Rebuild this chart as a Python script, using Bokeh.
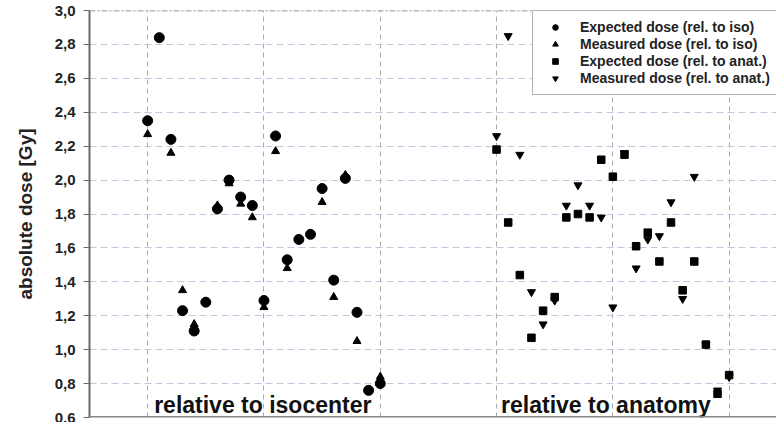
from bokeh.plotting import figure
from bokeh.embed import file_html
from bokeh.resources import INLINE
from bokeh.models import FixedTicker, CustomJSTickFormatter, Span
from bokeh.core.properties import value

# ---- data ----
iso_x = list(range(10, 31))
iso_expected = [2.35, 2.84, 2.24, 1.23, 1.11, 1.28, 1.83, 2.00, 1.90, 1.85, 1.29,
                2.26, 1.53, 1.65, 1.68, 1.95, 1.41, 2.01, 1.22, 0.76, 0.80]
iso_measured = [2.27, 2.84, 2.16, 1.35, 1.15, 1.28, 1.85, 1.98, 1.86, 1.78, 1.25,
                2.17, 1.48, 1.65, 1.68, 1.87, 1.31, 2.03, 1.05, 0.76, 0.84]

anat_x = list(range(40, 61))
anat_expected = [2.18, 1.75, 1.44, 1.07, 1.23, 1.31, 1.78, 1.80, 1.78, 2.12, 2.02,
                 2.15, 1.61, 1.69, 1.52, 1.75, 1.35, 1.52, 1.03, 0.74, 0.85]
anat_measured = [2.26, 2.85, 2.15, 1.34, 1.15, 1.29, 1.85, 1.97, 1.85, 1.78, 1.25,
                 2.16, 1.48, 1.65, 1.67, 1.87, 1.30, 2.02, 1.03, 0.76, 0.84]

y_ticks = [0.6, 0.8, 1.0, 1.2, 1.4, 1.6, 1.8, 2.0, 2.2, 2.4, 2.6, 2.8, 3.0]
x_grid = [10, 20, 30, 40, 50, 60]
group_labels = ["relative to isocenter", "relative to anatomy"]
group_label_x = [19.9, 49.4]
group_label_y = [0.672, 0.672]
legend_labels = ["Expected dose (rel. to iso)", "Measured dose (rel. to iso)",
                 "Expected dose (rel. to anat.)", "Measured dose (rel. to anat.)"]
y_label = "absolute dose [Gy]"

FONT = "Liberation Sans"

p = figure(width=776, height=422, output_backend="svg", toolbar_location=None,
           x_range=(5, 64.07), y_range=(0.6, 3.0),
           min_border_left=89, min_border_right=0, min_border_top=10, min_border_bottom=5)
p.background_fill_color = "white"
p.border_fill_color = "white"
p.outline_line_color = None

# axes
p.xaxis.visible = False
yax = p.yaxis[0]
yax.ticker = FixedTicker(ticks=y_ticks)
yax.formatter = CustomJSTickFormatter(code="return tick.toFixed(1).replace('.', ',');")
yax.axis_line_color = "#6a6a6a"
yax.axis_line_width = 2
yax.major_tick_line_color = "#6a6a6a"
yax.major_tick_out = 6
yax.major_tick_in = 0
yax.minor_tick_out = 0
yax.minor_tick_in = 0
yax.major_label_standoff = 8
yax.major_label_text_font = FONT
yax.major_label_text_font_style = "bold"
yax.major_label_text_font_size = "15px"
yax.major_label_text_color = "#222222"
yax.axis_label = y_label
yax.axis_label_text_font = FONT
yax.axis_label_text_font_style = "bold"
yax.axis_label_text_font_size = "19px"
yax.axis_label_text_color = "#222222"
yax.axis_label_standoff = 16

# grids
p.ygrid.ticker = FixedTicker(ticks=y_ticks[1:-1])
p.ygrid.grid_line_color = "#c4c6de"
p.ygrid.grid_line_dash = "7 4"
p.ygrid.grid_line_width = 1
p.xgrid.ticker = FixedTicker(ticks=x_grid)
p.xgrid.grid_line_color = "#a8a8a8"
p.xgrid.grid_line_dash = "5 4"
p.xgrid.grid_line_width = 1

p.add_layout(Span(location=3.0, dimension="width", line_color="#777777",
                  line_dash="6 2 2 2", line_width=1.5))
p.add_layout(Span(location=0.6, dimension="width", line_color="#888888", line_width=3))

# markers
p.scatter(iso_x, iso_measured, marker="triangle", size=8, color="black",
          legend_label=legend_labels[1])
p.scatter(iso_x, iso_expected, marker="circle", size=10, color="black",
          legend_label=legend_labels[0])
p.scatter(anat_x, anat_measured, marker="inverted_triangle", size=8, color="black",
          legend_label=legend_labels[3])
p.scatter(anat_x, anat_expected, marker="square", size=7.5, color="black",
          legend_label=legend_labels[2])

# reorder legend items
leg = p.legend[0]
items = {it.label.value: it for it in leg.items}
leg.items = [items[l] for l in legend_labels]
leg.location = (443, 322)
leg.label_text_font = FONT
leg.label_text_font_style = "bold"
leg.label_text_font_size = "14px"
leg.label_text_color = "#222222"
leg.label_height = 14
leg.glyph_height = 14
leg.glyph_width = 28
leg.label_standoff = 11
leg.spacing = 1
leg.padding = 8
leg.margin = 0
leg.border_line_color = "#666666"
leg.border_line_width = 1
leg.background_fill_color = "white"
leg.background_fill_alpha = 1

# group labels
p.text(x=group_label_x, y=group_label_y, text=group_labels,
       text_font=value(FONT), text_font_style="bold", text_font_size="23px",
       text_align="center", text_baseline="middle", text_color="#111111")

open("out.html", "w").write(file_html(p, INLINE))
